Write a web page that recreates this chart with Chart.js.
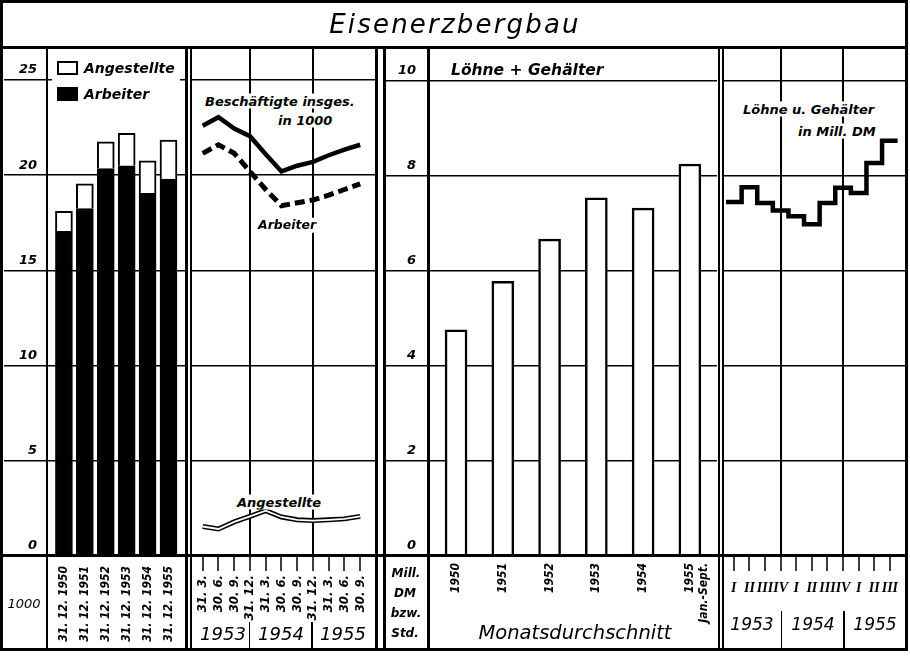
<!DOCTYPE html>
<html>
<head>
<meta charset="utf-8">
<script src="https://cdn.jsdelivr.net/npm/chart.js@4.4.1/dist/chart.umd.min.js"></script>
<style>
body { margin: 0; background: #fff; }
#wrap { position: relative; width: 910px; height: 659px; overflow: hidden; font-family: "DejaVu Sans", sans-serif; font-style: italic; color: #000; }
canvas { position: absolute; }
.ln { position: absolute; background: #000; }
.t { position: absolute; white-space: nowrap; line-height: 1; }
.c { transform: translate(-50%, -50%); }
.l { transform: translateY(-50%); }
.b { font-weight: bold; }
.bg { background: #fff; padding: 1px 2px; }
</style>
</head>
<body>
<div id="wrap">
  <canvas id="c1" width="181" height="599" style="left:4px;top:49px"></canvas>
  <canvas id="c2" width="183" height="599" style="left:192px;top:49px"></canvas>
  <canvas id="c3" width="331" height="599" style="left:386px;top:49px"></canvas>
  <canvas id="c4" width="181" height="599" style="left:724px;top:49px"></canvas>

  <!-- frame -->
  <div style="position:absolute;left:0;top:0;width:908px;height:651px;border:3px solid #000;box-sizing:border-box"></div>
  <div class="ln" style="left:0;top:46px;width:908px;height:3px"></div>
  <div class="ln" style="left:0;top:554px;width:908px;height:3px"></div>
  <div class="ln" style="left:45.5px;top:49px;width:2.5px;height:600px"></div>
  <div class="ln" style="left:185px;top:49px;width:3px;height:600px"></div>
  <div class="ln" style="left:189.5px;top:49px;width:2px;height:600px"></div>
  <div class="ln" style="left:375px;top:49px;width:3px;height:600px"></div>
  <div class="ln" style="left:383px;top:49px;width:3px;height:600px"></div>
  <div class="ln" style="left:427px;top:49px;width:2.5px;height:600px"></div>
  <div class="ln" style="left:717.5px;top:49px;width:2.5px;height:600px"></div>
  <div class="ln" style="left:721.5px;top:49px;width:2.5px;height:600px"></div>
  <div class="ln" style="left:248.5px;top:622px;width:1.5px;height:27px"></div>
  <div class="ln" style="left:311px;top:622px;width:1.5px;height:27px"></div>
  <div class="ln" style="left:780.5px;top:611px;width:1.5px;height:38px"></div>
  <div class="ln" style="left:843px;top:611px;width:1.5px;height:38px"></div>

  <div class="t c" style="left:455px;top:24px;font-size:26px;letter-spacing:2.2px">Eisenerzbergbau</div>

  <!-- legend panel 1 -->
  <div style="position:absolute;left:52px;top:55px;width:128px;height:50px;background:#fff"></div>
  <div style="position:absolute;left:57px;top:61px;width:21px;height:14px;border:2px solid #000;box-sizing:border-box;background:#fff"></div>
  <div style="position:absolute;left:57px;top:87px;width:21px;height:14px;background:#000"></div>
  <div class="t l b" style="left:84px;top:68px;font-size:14px">Angestellte</div>
  <div class="t l b" style="left:84px;top:94px;font-size:14px">Arbeiter</div>

  <!-- panel 2 notes -->
  <div class="t l b bg" style="left:203px;top:101px;font-size:13px">Beschäftigte insges.</div>
  <div class="t l b bg" style="left:276px;top:120px;font-size:13px">in 1000</div>
  <div class="t l b bg" style="left:256px;top:225px;font-size:12.5px">Arbeiter</div>
  <div class="t l b bg" style="left:235px;top:502px;font-size:13px">Angestellte</div>

  <!-- panel 3 / 4 notes -->
  <div class="t l b" style="left:451px;top:71px;font-size:15.5px">Löhne + Gehälter</div>
  <div class="t l b bg" style="left:741px;top:109px;font-size:13px">Löhne u. Gehälter</div>
  <div class="t l b bg" style="left:796px;top:131px;font-size:13px">in Mill. DM</div>

  <!-- bottom row -->
  <div class="t c" style="left:24px;top:603px;font-size:13px">1000</div>
  <div class="t c b" style="left:406px;top:573px;font-size:12px">Mill.</div>
  <div class="t c b" style="left:405px;top:593px;font-size:12px">DM</div>
  <div class="t c b" style="left:406px;top:613px;font-size:12px">bzw.</div>
  <div class="t c b" style="left:405px;top:633px;font-size:12px">Std.</div>
  <div class="t c" style="left:575px;top:633px;font-size:19.5px">Monatsdurchschnitt</div>
  <div class="t c" style="left:223px;top:634px;font-size:18px">1953</div>
  <div class="t c" style="left:281px;top:634px;font-size:18px">1954</div>
  <div class="t c" style="left:343px;top:634px;font-size:18px">1955</div>
  <div class="t c" style="left:752px;top:624px;font-size:17px">1953</div>
  <div class="t c" style="left:813px;top:624px;font-size:17px">1954</div>
  <div class="t c" style="left:875px;top:624px;font-size:17px">1955</div>
</div>

<script>
// Beschäftigte am Jahresende (in 1000)
var yearEnds = ['31. 12. 1950', '31. 12. 1951', '31. 12. 1952', '31. 12. 1953', '31. 12. 1954', '31. 12. 1955'];
var arbeiterYear = [17.05, 18.25, 20.35, 20.5, 19.05, 19.8];
var angestellteYear = [1.05, 1.3, 1.4, 1.7, 1.7, 2.05];

// Beschäftigte je Quartalsende 1953-1955 (in 1000)
var quarterDates = ['31. 3.', '30. 6.', '30. 9.', '31. 12.', '31. 3.', '30. 6.', '30. 9.', '31. 12.', '31. 3.', '30. 6.', '30. 9.'];
var totalQ = [22.6, 23.05, 22.45, 22.05, 21.1, 20.2, 20.5, 20.7, 21.05, 21.35, 21.6];
var arbeiterQ = [21.15, 21.6, 21.15, 20.2, 19.25, 18.4, 18.55, 18.7, 18.95, 19.25, 19.55];
var angestellteQ = [1.55, 1.42, 1.79, 2.08, 2.38, 2.05, 1.9, 1.86, 1.9, 1.95, 2.08];

// Löhne + Gehälter, Monatsdurchschnitt (Mill. DM)
var wageYears = ['1950', '1951', '1952', '1953', '1954', ['1955', 'Jan.-Sept.']];
var wageYear = [4.76, 5.78, 6.67, 7.54, 7.32, 8.25];

// Löhne u. Gehälter je Quartal (Mill. DM)
var quarterNames = ['I', 'II', 'III', 'IV', 'I', 'II', 'III', 'IV', 'I', 'II', 'III'];
var wageQ = [7.45, 7.76, 7.43, 7.27, 7.15, 6.98, 7.43, 7.75, 7.64, 8.27, 8.74];

var narrow = '"Liberation Sans Narrow", "DejaVu Sans Condensed", "Liberation Sans", sans-serif';
var sans = '"DejaVu Sans", sans-serif';
var serif = '"Liberation Serif", "DejaVu Serif", serif';

Chart.defaults.color = '#000';
Chart.defaults.animation = false;

function xy(arr) {
  return arr.map(function (v, i) { return {x: i, y: v}; });
}
function noPad(s) { s.paddingLeft = 0; s.paddingRight = 0; s.paddingTop = 0; s.paddingBottom = 0; }
function fixW(w) { return function (s) { s.width = w; noPad(s); }; }
function fixH(h) { return function (s) { s.height = h; noPad(s); }; }
function ticksAt(vals) {
  return function (s) { s.ticks = vals.map(function (v) { return {value: v}; }); };
}
function idx(arr, off) { return arr.map(function (_, i) { return i + (off || 0); }); }

var base = {
  responsive: false,
  layout: {padding: 0, autoPadding: false},
  plugins: {legend: {display: false}, tooltip: {enabled: false}},
  elements: {point: {radius: 0}, line: {tension: 0}}
};
function opts(scales) {
  return Object.assign({}, base, {scales: scales});
}
function yAxis(max, step, width, pad, stacked) {
  return {
    min: 0, max: max, bounds: 'data', stacked: stacked,
    afterFit: fixW(width),
    border: {display: false},
    grid: {color: '#000', lineWidth: 1.5, drawTicks: width > 0, tickLength: width},
    ticks: {display: width > 0, stepSize: step, includeBounds: false, padding: pad, labelOffset: -10,
      font: {family: sans, size: 13, style: 'italic', weight: 'bold'}}
  };
}

// Panel 1: Beschäftigte am Jahresende
new Chart(document.getElementById('c1'), {
  type: 'bar',
  data: {datasets: [
    {label: 'Arbeiter', data: xy(arbeiterYear), backgroundColor: '#000', borderColor: '#000', borderWidth: 2, barThickness: 17},
    {label: 'Angestellte', data: xy(angestellteYear), backgroundColor: '#fff', borderColor: '#000', borderWidth: 2, barThickness: 17}
  ]},
  options: opts({
    x: {type: 'linear', stacked: true, offset: false, min: -0.81, max: 5.79, bounds: 'data',
      afterBuildTicks: ticksAt(idx(yearEnds)), afterFit: fixH(92),
      border: {display: false}, grid: {display: false, drawTicks: false, offset: false},
      ticks: {autoSkip: false, minRotation: 90, maxRotation: 90, padding: 10,
        font: {family: narrow, size: 12, style: 'italic', weight: 'bold'},
        callback: function (v, i) { return yearEnds[i]; }}},
    y: yAxis(26.63, 5, 43, -33, true)
  })
});

// Panel 2: Quartalsverlauf der Beschäftigten
// (Chart.js zeichnet den letzten Datensatz zuerst: weiße Innenlinie liegt über der schwarzen)
new Chart(document.getElementById('c2'), {
  type: 'line',
  data: {datasets: [
    {label: 'Beschäftigte insges.', data: xy(totalQ), borderColor: '#000', borderWidth: 4.5},
    {label: 'Arbeiter', data: xy(arbeiterQ), borderColor: '#000', borderWidth: 5, borderDash: [10, 5]},
    {label: 'Angestellte', data: xy(angestellteQ), borderColor: '#fff', borderWidth: 1.8},
    {label: 'Angestellte', data: xy(angestellteQ), borderColor: '#000', borderWidth: 5}
  ]},
  options: opts({
    x: {type: 'linear', min: -0.68, max: 10.94, bounds: 'data',
      afterBuildTicks: ticksAt(idx(quarterDates)), afterFit: fixH(92),
      border: {display: false},
      grid: {
        color: function (c) { return quarterDates[c.index] === '31. 12.' ? '#000' : 'rgba(0,0,0,0)'; },
        tickColor: '#000', lineWidth: 2, tickWidth: 1.5, drawTicks: true, tickLength: 15
      },
      ticks: {autoSkip: false, minRotation: 90, maxRotation: 90, padding: 4,
        font: {family: narrow, size: 13, style: 'italic', weight: 'bold'},
        callback: function (v, i) { return quarterDates[i]; }}},
    y: yAxis(26.63, 5, 0, 0, false)
  })
});

// Panel 3: Löhne + Gehälter je Jahr
new Chart(document.getElementById('c3'), {
  type: 'bar',
  data: {datasets: [
    {label: 'Löhne + Gehälter', data: xy(wageYear), backgroundColor: '#fff', borderColor: '#000', borderWidth: 2.5, barThickness: 22}
  ]},
  options: opts({
    x: {type: 'linear', offset: false, min: -0.6, max: 5.58, bounds: 'data',
      afterBuildTicks: ticksAt(idx(wageYears)), afterFit: fixH(92),
      border: {display: false}, grid: {display: false, drawTicks: false, offset: false},
      ticks: {autoSkip: false, minRotation: 90, maxRotation: 90, padding: 7,
        font: {family: narrow, size: 12, style: 'italic', weight: 'bold'},
        callback: function (v, i) { return wageYears[i]; }}},
    y: yAxis(10.67, 2, 42, -30, false)
  })
});

// Panel 4: Löhne u. Gehälter je Quartal (Treppenkurve)
var stepData = xy(wageQ).concat([{x: wageQ.length, y: wageQ[wageQ.length - 1]}]);
new Chart(document.getElementById('c4'), {
  type: 'line',
  data: {datasets: [
    {label: 'Löhne u. Gehälter', data: stepData, stepped: 'before', borderColor: '#000', borderWidth: 4.5}
  ]},
  options: opts({
    x: {type: 'linear', min: -0.13, max: 11.47, bounds: 'data',
      afterBuildTicks: ticksAt(idx(quarterNames, 0.5)), afterFit: fixH(92),
      border: {display: false},
      grid: {
        color: function (c) { return quarterNames[c.index] === 'IV' ? '#000' : 'rgba(0,0,0,0)'; },
        tickColor: '#000', lineWidth: 2, tickWidth: 1.5, drawTicks: true, tickLength: 15
      },
      ticks: {autoSkip: false, minRotation: 0, maxRotation: 0, padding: 9,
        font: {family: serif, size: 14, style: 'italic', weight: 'bold'},
        callback: function (v, i) { return quarterNames[i]; }}},
    y: yAxis(10.67, 2, 0, 0, false)
  })
});
</script>
</body>
</html>
